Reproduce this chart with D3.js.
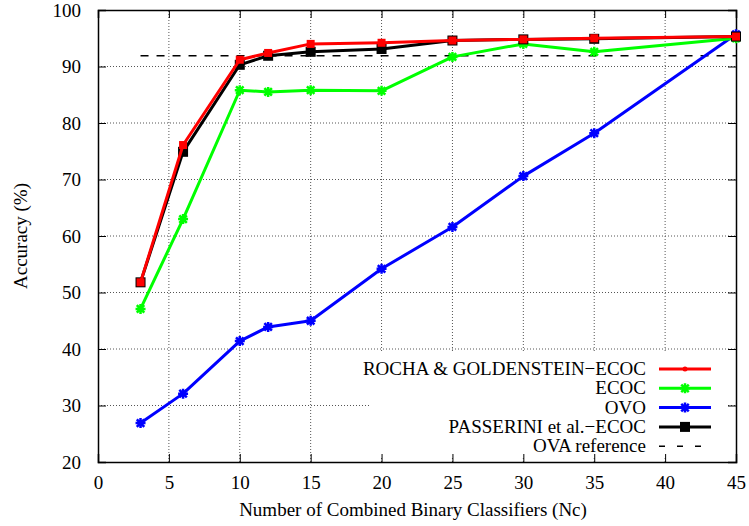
<!DOCTYPE html>
<html>
<head>
<meta charset="utf-8">
<script src="https://cdn.jsdelivr.net/npm/d3@7"></script>
<style>
  body { margin: 0; background: #fff; }
  text { font-family: "Liberation Serif", "DejaVu Serif", serif; }
</style>
</head>
<body>
<div id="chart"></div>
<script>
// values
const nc = [3, 6, 10, 12, 15, 20, 25, 30, 35, 45]
const rocha = [51.8, 76.1, 91.2, 92.4, 94.0, 94.2, 94.6, 94.8, 95.0, 95.3]
const ecoc = [47.1, 63.0, 85.8, 85.5, 85.8, 85.7, 91.7, 94.0, 92.6, 95.0]
const ovo = [26.9, 32.1, 41.4, 43.9, 45.0, 54.2, 61.6, 70.6, 78.2, 95.7]
const passerini = [51.8, 74.9, 90.3, 91.9, 92.6, 93.1, 94.6, 94.8, 94.9, 95.3]
const ovaRef = 91.9
const ovaRange = [3, 45]
const xTicks = [0, 5, 10, 15, 20, 25, 30, 35, 40, 45]
const yTicks = [20, 30, 40, 50, 60, 70, 80, 90, 100]

var width = 749,
    height = 526
var margin = {top: 10, right: 13, bottom: 64, left: 98}
var fontSize = "19px"

var svg = d3.select("#chart").append("svg")
    .attr("width", width)
    .attr("height", height)

var x = d3.scaleLinear().domain([0, 45]).range([margin.left, width - margin.right])
var y = d3.scaleLinear().domain([20, 100]).range([height - margin.bottom, margin.top])

const x0 = x.range()[0], x1 = x.range()[1]
const y0 = y.range()[0], y1 = y.range()[1]

// dotted grid
const grid = svg.append("g")
grid.selectAll(".gx")
    .data(xTicks.slice(1, -1))
    .enter().append("line")
    .attr("x1", d => x(d)).attr("x2", d => x(d))
    .attr("y1", y0).attr("y2", y1)
    .attr("stroke", "#555").attr("stroke-width", 1)
    .attr("stroke-dasharray", "1,2")
grid.selectAll(".gy")
    .data(yTicks.slice(1, -1))
    .enter().append("line")
    .attr("x1", x0).attr("x2", x1)
    .attr("y1", d => y(d)).attr("y2", d => y(d))
    .attr("stroke", "#555").attr("stroke-width", 1)
    .attr("stroke-dasharray", "1,2")

// legend background hides the grid behind it
svg.append("rect")
    .attr("x", 370).attr("y", 352)
    .attr("width", 358).attr("height", 104)
    .attr("fill", "white")

// axes with inner ticks on all sides
const tickLen = 8
svg.append("g")
    .attr("transform", "translate(0," + y0 + ")")
    .call(d3.axisBottom(x).tickValues(xTicks).tickSize(-tickLen).tickPadding(14))
svg.append("g")
    .attr("transform", "translate(0," + y1 + ")")
    .call(d3.axisTop(x).tickValues(xTicks).tickSize(-tickLen).tickFormat(""))
svg.append("g")
    .attr("transform", "translate(" + x0 + ",0)")
    .call(d3.axisLeft(y).tickValues(yTicks).tickSize(-tickLen).tickPadding(17))
svg.append("g")
    .attr("transform", "translate(" + x1 + ",0)")
    .call(d3.axisRight(y).tickValues(yTicks).tickSize(-tickLen).tickFormat(""))

svg.selectAll(".domain").attr("stroke", "black").attr("stroke-width", 1.5)
svg.selectAll(".tick line").attr("stroke", "black")
svg.selectAll(".tick text")
    .style("font-family", "'Liberation Serif', serif")
    .style("font-size", fontSize)
    .attr("fill", "black")

// axis titles
svg.append("text")
    .attr("x", (x0 + x1) / 2 - 4).attr("y", 516)
    .attr("text-anchor", "middle")
    .style("font-size", fontSize)
    .text("Number of Combined Binary Classifiers (Nc)")
svg.append("text")
    .attr("transform", "translate(27," + ((y0 + y1) / 2) + ") rotate(-90)")
    .attr("text-anchor", "middle")
    .style("font-size", fontSize)
    .text("Accuracy (%)")

// OVA reference dashed line
svg.append("line")
    .attr("x1", x(ovaRange[0])).attr("x2", x(ovaRange[1]))
    .attr("y1", y(ovaRef)).attr("y2", y(ovaRef))
    .attr("stroke", "black").attr("stroke-width", 1.5)
    .attr("stroke-dasharray", "8,8")

var line = d3.line()
    .x(d => x(d[0]))
    .y(d => y(d[1]))

function starPath(s) {
    return "M" + (-s) + ",0H" + s + "M0," + (-s) + "V" + s +
        "M" + (-s * 0.75) + "," + (-s * 0.75) + "L" + (s * 0.75) + "," + (s * 0.75) +
        "M" + (-s * 0.75) + "," + (s * 0.75) + "L" + (s * 0.75) + "," + (-s * 0.75)
}

const series = [
    {name: "OVO", values: ovo, color: "#0000ff", marker: "star"},
    {name: "ECOC", values: ecoc, color: "#00ff00", marker: "star"},
    {name: "PASSERINI", values: passerini, color: "black", marker: "square"},
    {name: "ROCHA", values: rocha, color: "#ff0000", marker: "smallsquare"}
]

function drawMarker(g, type, color) {
    if (type == "star") {
        g.append("path").attr("d", starPath(5))
            .attr("stroke", color).attr("stroke-width", 2.5).attr("fill", "none")
    } else if (type == "square") {
        g.append("rect").attr("x", -5).attr("y", -5).attr("width", 10).attr("height", 10)
            .attr("fill", "black")
    } else {
        g.append("rect").attr("x", -4).attr("y", -4).attr("width", 8).attr("height", 8)
            .attr("fill", color)
    }
}

series.forEach(function(s) {
    const pts = nc.map((v, i) => [v, s.values[i]])
    svg.append("path")
        .datum(pts)
        .attr("d", line)
        .attr("fill", "none")
        .attr("stroke", s.color)
        .attr("stroke-width", 3)
        .attr("stroke-linejoin", "round")
    pts.forEach(function(p) {
        const g = svg.append("g").attr("transform", "translate(" + x(p[0]) + "," + y(p[1]) + ")")
        drawMarker(g, s.marker, s.color)
    })
})

// legend
const legendItems = [
    {label: "ROCHA & GOLDENSTEIN\u2212ECOC", color: "#ff0000", marker: "dot"},
    {label: "ECOC", color: "#00ff00", marker: "star"},
    {label: "OVO", color: "#0000ff", marker: "star"},
    {label: "PASSERINI et al.\u2212ECOC", color: "black", marker: "square"},
    {label: "OVA reference", color: "black", marker: "dash"}
]
const leg = svg.append("g")
legendItems.forEach(function(d, i) {
    const cy = 369 + i * 19.3
    leg.append("text")
        .attr("x", 646).attr("y", cy + 6)
        .attr("text-anchor", "end")
        .style("font-size", fontSize)
        .text(d.label)
    if (d.marker == "dash") {
        leg.append("line")
            .attr("x1", 659).attr("x2", 706).attr("y1", cy).attr("y2", cy)
            .attr("stroke", "black").attr("stroke-width", 1.5)
            .attr("stroke-dasharray", "6,12")
    } else {
        leg.append("line")
            .attr("x1", 659).attr("x2", 711).attr("y1", cy).attr("y2", cy)
            .attr("stroke", d.color).attr("stroke-width", 3)
        const g = leg.append("g").attr("transform", "translate(685," + cy + ")")
        if (d.marker == "dot") {
            g.append("circle").attr("r", 2.5).attr("fill", d.color)
        } else {
            drawMarker(g, d.marker, d.color)
        }
    }
})
</script>
</body>
</html>
